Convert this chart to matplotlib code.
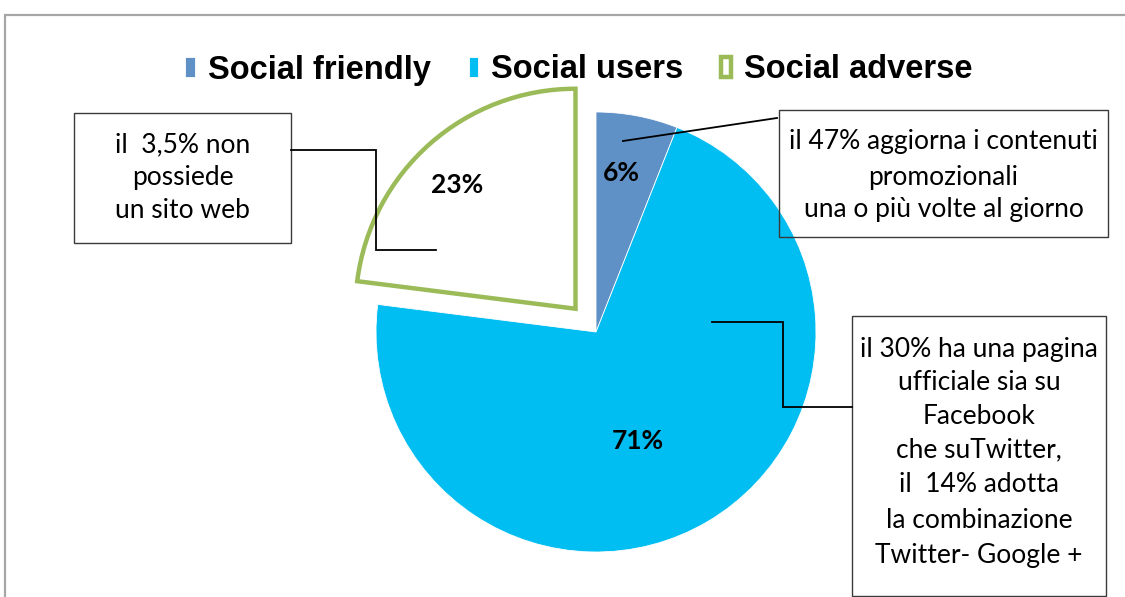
import matplotlib
matplotlib.use("Agg")
import matplotlib.pyplot as plt
from matplotlib.patches import Rectangle

# Data
categories = ["Social friendly", "Social users", "Social adverse"]
shares = [6, 71, 23]
slice_colors = ["#5F91C7", "#00BDF2", "#FFFFFF"]
pct_labels = [f"{v}%" for v in shares]

note_adverse = ["il  3,5% non", "possiede", "un sito web"]
note_friendly = ["il 47% aggiorna i contenuti", "promozionali", "una o più volte al giorno"]
note_users = ["il 30% ha una pagina", "ufficiale sia su", "Facebook", "che suTwitter,",
              "il  14% adotta", "la combinazione", "Twitter- Google +"]

W, H = 1125, 597
fig = plt.figure(figsize=(W / 100, H / 100), dpi=100)
ax = fig.add_axes([0, 0, 1, 1])


def Y(py):
    return H - py


TEXT_FONT = ["Lato", "DejaVu Sans"]

# Pie
cx, cy, r = 596, Y(332), 220
wedges, _ = ax.pie(shares, colors=slice_colors, startangle=90, counterclock=False,
                   center=(cx, cy), radius=r, explode=[0, 0, 31], frame=True,
                   wedgeprops=dict(linewidth=0.6, edgecolor="white"))
wedges[2].set_edgecolor("#9BBB59")
wedges[2].set_linewidth(3.2)
wedges[2].set_joinstyle("miter")

ax.set_xlim(0, W)
ax.set_ylim(0, H)
ax.set_aspect("equal")
ax.axis("off")

# Outer chart frame
ax.add_patch(Rectangle((5, Y(640)), 1200, 625, fill=False, edgecolor="#A6A6A6",
                       linewidth=1.6, clip_on=True))

# Percentage labels
label_pos = [(621, 173), (638, 441), (457, 185)]
for (px, py), txt in zip(label_pos, pct_labels):
    ax.text(px, Y(py), txt, ha="center", va="center", fontsize=19,
            fontweight="bold", family=TEXT_FONT, color="black")


def note_box(x0, y0, x1, y1, lines, line_y):
    ax.add_patch(Rectangle((x0, Y(y1)), x1 - x0, y1 - y0, fill=False,
                           edgecolor="#3A3A3A", linewidth=1.0))
    xc = (x0 + x1) / 2
    for ln, ly in zip(lines, line_y):
        ax.text(xc, Y(ly), ln, ha="center", va="center", fontsize=19,
                family=TEXT_FONT, color="black")


note_box(74, 113, 291, 243, note_adverse, [145, 178, 211])
note_box(779, 110, 1108, 237, note_friendly, [142, 177, 210])
note_box(852, 316, 1106, 596, note_users, [350, 383, 416, 450, 485, 521, 555])

# Leader lines
lk = dict(color="black", linewidth=1.3, solid_joinstyle="miter")
ax.plot([291, 376, 376, 436], [Y(150), Y(150), Y(250), Y(250)], **lk)
ax.plot([623, 777], [Y(141), Y(118)], **lk)
ax.plot([712, 783, 783, 852], [Y(322), Y(322), Y(407), Y(407)], **lk)

# Legend
fig.legend(wedges, categories, loc="center", bbox_to_anchor=(579 / W, 1 - 70 / H),
           ncol=3, frameon=False,
           prop=dict(family="Liberation Sans", weight="bold", size=23.5),
           handlelength=0.3, handleheight=0.6, handletextpad=0.4,
           columnspacing=1.15, borderpad=0)

fig.savefig("out.png", dpi=100, facecolor="white")
